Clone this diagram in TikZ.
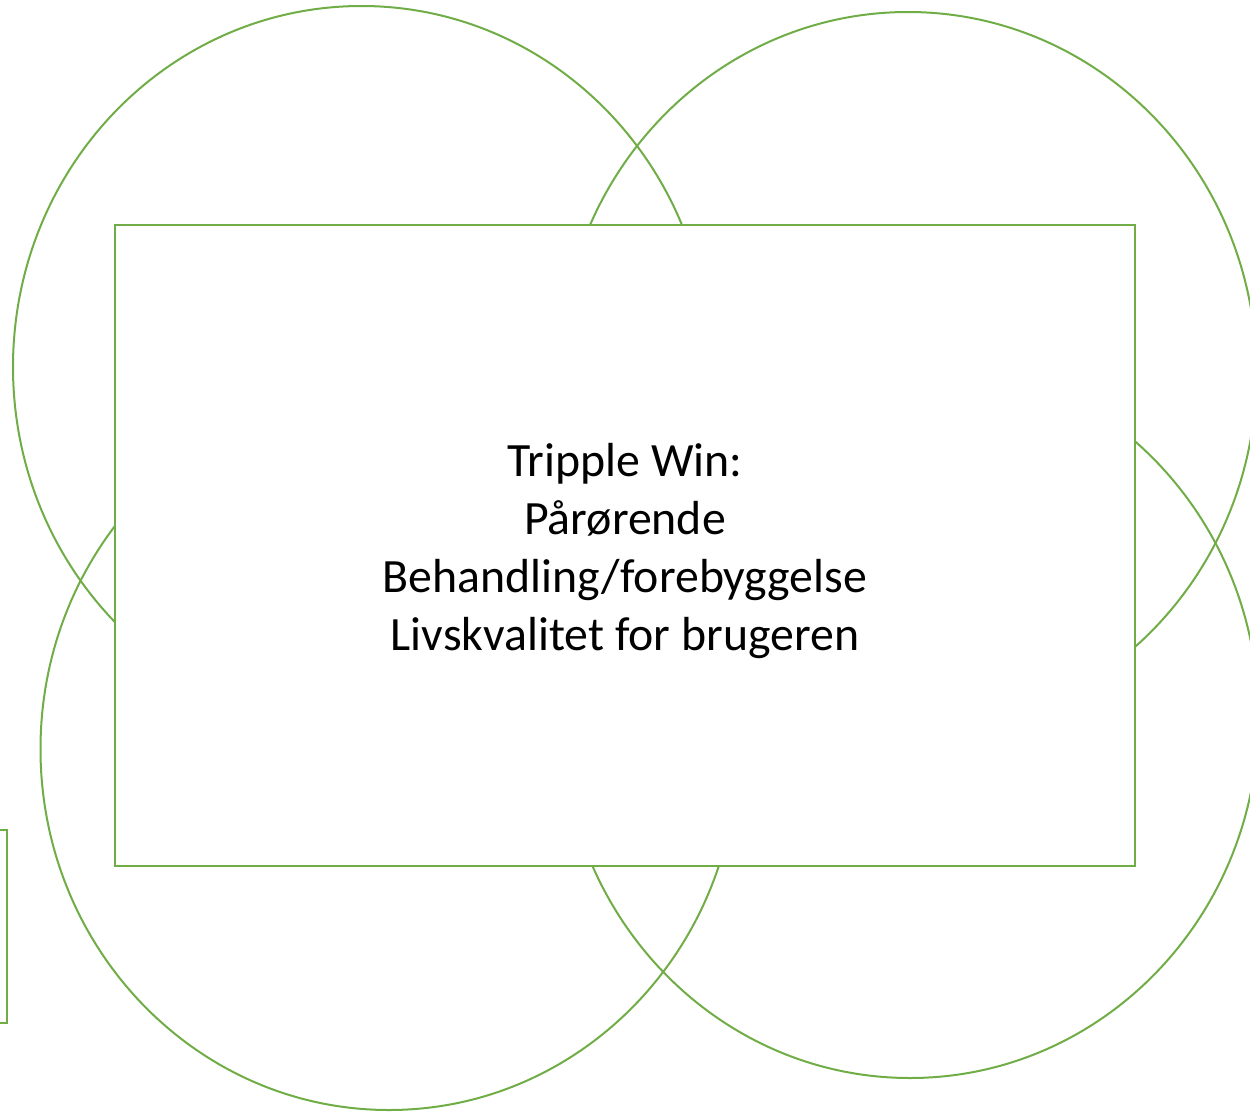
\documentclass[tikz,border=0pt]{standalone}
\usepackage{fontspec}
\setmainfont{Carlito}
\usetikzlibrary{shapes.geometric}
\definecolor{ogreen}{RGB}{112,173,71}
\begin{document}
\begin{tikzpicture}[x=1pt,y=-1pt,
  ring/.style={draw=ogreen, line width=2pt, ellipse, minimum width=697pt, minimum height=722pt, inner sep=0pt, outer sep=0pt},
  box/.style={draw=ogreen, line width=2.5pt, fill=white, inner sep=0pt, outer sep=0pt},
  label/.style={align=center, font=\fontsize{47.8}{58}\selectfont, text=black}]
\useasboundingbox (0,0) rectangle (1250,1111);
\clip (0,0) rectangle (1250,1111);
\node[ring] (c1) at (361.5,367) {};
\node[ring] (c2) at (908,373) {};
\node[ring] (c3) at (389,749) {};
\node[ring] (c4) at (910,717) {};
\node[box, minimum width=1020pt, minimum height=641pt, anchor=north west] (main) at (115,225) {};
\node[box, minimum width=30pt, minimum height=193pt, anchor=north east] (side) at (7,830) {};
\node[label] (txt) at (625,551) {Tripple Win:\\Pårørende\\Behandling/forebyggelse\\Livskvalitet for brugeren};
\end{tikzpicture}
\end{document}
